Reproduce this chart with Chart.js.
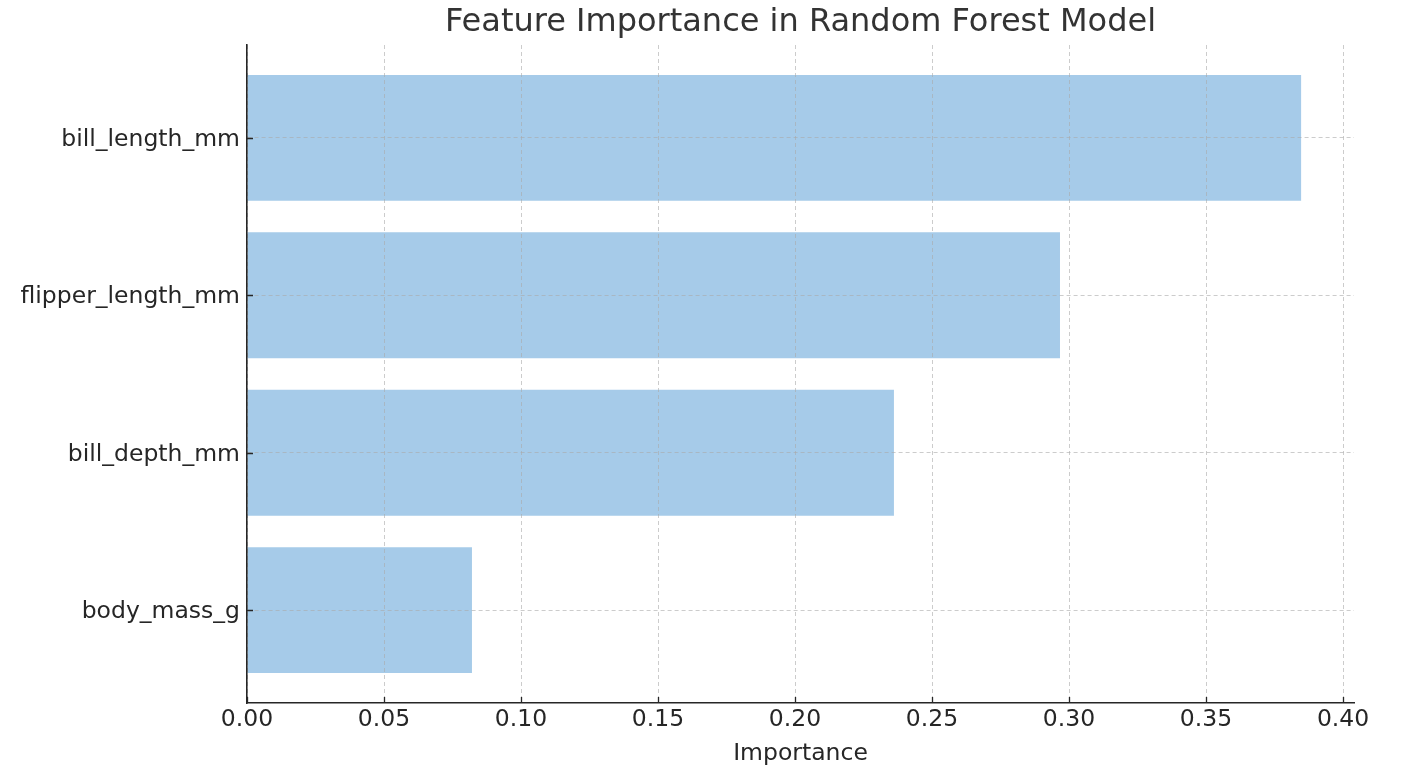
<!DOCTYPE html>
<html>
<head>
<meta charset="utf-8">
<script src="https://cdn.jsdelivr.net/npm/chart.js@4"></script>
<style>
  html, body { margin: 0; padding: 0; background: #fff; }
  #wrap { width: 1422px; height: 780px; }
</style>
</head>
<body>
<div id="wrap"><canvas id="chart" width="1422" height="780"></canvas></div>
<script>
/* DATOS */
const features = ['bill_length_mm', 'flipper_length_mm', 'bill_depth_mm', 'body_mass_g'];
const importance = [0.3847, 0.2967, 0.2361, 0.0821];
const xTicks = [0, 0.05, 0.10, 0.15, 0.20, 0.25, 0.30, 0.35, 0.40];
const chartTitle = 'Feature Importance in Random Forest Model';
const xTitle = 'Importance';

const FONT = "'DejaVu Sans', sans-serif";
const INK = '#262626';
const SIZE = 23.5;

/* Título centrado sobre el área del gráfico y ticks hacia dentro (estilo matplotlib) */
const mplStyle = {
  id: 'mplStyle',
  afterDraw(chart) {
    const { ctx, chartArea, scales } = chart;
    ctx.save();
    ctx.fillStyle = '#333333';
    ctx.font = `32px ${FONT}`;
    ctx.textAlign = 'center';
    ctx.textBaseline = 'middle';
    ctx.fillText(chartTitle, (chartArea.left + chartArea.right) / 2, 23);

    ctx.strokeStyle = INK;
    ctx.lineWidth = 1.3;
    ctx.beginPath();
    scales.x.ticks.forEach((t, i) => {
      const px = Math.round(scales.x.getPixelForTick(i)) + 0.5;
      ctx.moveTo(px, chartArea.bottom);
      ctx.lineTo(px, chartArea.bottom - 6);
    });
    scales.y.ticks.forEach((t, i) => {
      const py = Math.round(scales.y.getPixelForTick(i)) + 0.5;
      ctx.moveTo(chartArea.left, py);
      ctx.lineTo(chartArea.left + 6, py);
    });
    ctx.stroke();
    ctx.restore();
  }
};

const gridOpts = { color: 'rgba(170,170,170,0.6)', lineWidth: 1, drawTicks: false, offset: false, z: 1 };
const borderOpts = { display: true, color: INK, width: 1.6, dash: [4, 3], z: 2 };

new Chart(document.getElementById('chart'), {
  type: 'bar',
  data: {
    datasets: [{
      data: importance.map((v, i) => ({ x: v, y: i })),
      backgroundColor: '#a6cbe9',
      borderWidth: 0,
      barPercentage: 0.8,
      categoryPercentage: 1,
    }],
  },
  options: {
    indexAxis: 'y',
    responsive: false,
    animation: false,
    layout: { padding: { left: 0, right: 68, top: 45, bottom: 0 } },
    plugins: {
      legend: { display: false },
      tooltip: { enabled: false },
      title: { display: false },
    },
    scales: {
      x: {
        type: 'linear',
        min: 0,
        max: 0.404,
        afterBuildTicks: s => { s.ticks = xTicks.map(v => ({ value: v })); },
        afterFit: s => { s.height = 77; },
        ticks: {
          color: INK,
          font: { family: FONT, size: SIZE },
          padding: 3,
          maxRotation: 0,
          z: 1,
          callback: v => Number(v).toFixed(2),
        },
        grid: gridOpts,
        border: borderOpts,
        title: {
          display: true,
          text: xTitle,
          color: INK,
          font: { family: FONT, size: SIZE },
          padding: { top: 0, bottom: 12 },
        },
      },
      y: {
        type: 'linear',
        min: -0.59,
        max: 3.59,
        reverse: true,
        offset: false,
        afterBuildTicks: s => { s.ticks = features.map((_, i) => ({ value: i })); },
        afterFit: s => { s.width = 247; },
        ticks: {
          color: INK,
          font: { family: FONT, size: SIZE },
          padding: 7,
          labelOffset: 2,
          z: 1,
          callback: v => features[v],
        },
        grid: gridOpts,
        border: borderOpts,
      },
    },
  },
  plugins: [mplStyle],
});
</script>
</body>
</html>
